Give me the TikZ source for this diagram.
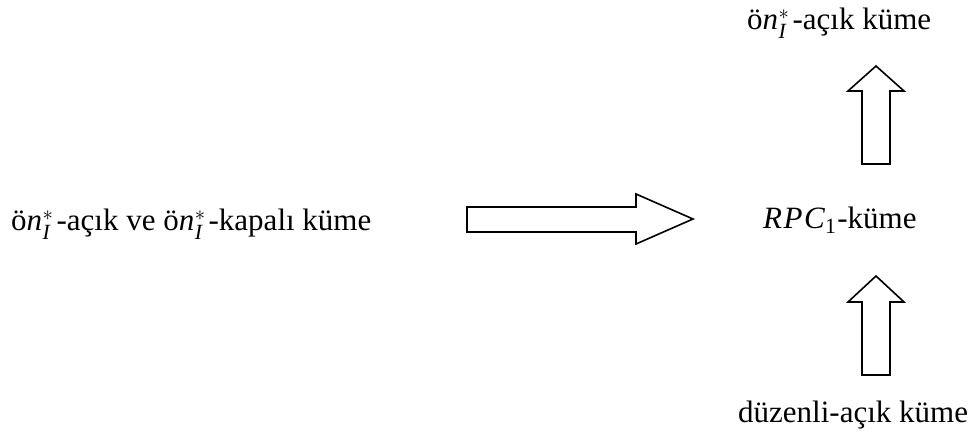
\documentclass[tikz,border=0pt]{standalone}
\usepackage{amsmath}
\usepackage{fontspec}
\setmainfont{Liberation Serif}
% "ön_I^*" prefix used in three labels
\newcommand{\onI}{ö\textit{n}\kern0.5pt$_{\textit{I}}^{*}$\kern3pt}
\tikzset{
  lbl/.style={anchor=base west, inner sep=0pt, font=\fontsize{31}{37}\selectfont},
  blockarrow/.style={draw=black, fill=white, line width=1.6pt, line join=miter}
}
\begin{document}
\begin{tikzpicture}[x=1pt, y=-1pt]
  \useasboundingbox (0,0) rectangle (978,437);
  % labels
  \node[lbl] (both)  at (11,230)  {\onI-açık ve \onI-kapalı küme};
  \node[lbl] (rpc)   at (763,228) {\textit{R\kern1.5pt P\kern1.5pt C}$_{\text{1}}$\kern1pt-küme};
  \node[lbl] (open)  at (747,29)  {\onI-açık küme};
  \node[lbl] (reg)   at (738,422) {düzenli-açık küme};
  % horizontal block arrow
  \draw[blockarrow] (467,207) -- (636,207) -- (636,194) -- (693,219)
    -- (636,244) -- (636,232) -- (467,232) -- cycle;
  % upper block arrow
  \draw[blockarrow] (862,164) -- (862,91) -- (848,91) -- (876,66)
    -- (904,91) -- (890,91) -- (890,164) -- cycle;
  % lower block arrow
  \draw[blockarrow] (862,375) -- (862,302) -- (848,302) -- (876,276)
    -- (904,302) -- (890,302) -- (890,375) -- cycle;
\end{tikzpicture}
\end{document}
